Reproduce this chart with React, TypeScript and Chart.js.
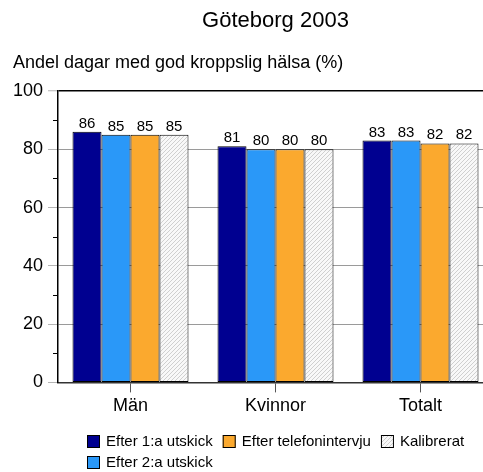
import React, { useEffect, useRef } from 'react';
import { Chart, registerables } from 'chart.js';

Chart.register(...registerables);

const categories = ['Män', 'Kvinnor', 'Totalt'];
const seriesLabels = ['Efter 1:a utskick', 'Efter 2:a utskick', 'Efter telefonintervju', 'Kalibrerat'];
const efter1 = [86, 81, 83];
const efter2 = [85, 80, 83];
const efterTelefon = [85, 80, 82];
const kalibrerat = [85, 80, 82];
const yTicks = [0, 20, 40, 60, 80, 100];
const titleText = 'Göteborg 2003';
const subtitleText = 'Andel dagar med god kroppslig hälsa (%)';
const legendRows = [[0, 2, 3], [1]];

const FONT = '"Liberation Sans", Arial, Helvetica, sans-serif';

function makeHatch(): CanvasPattern | string {
  const c = document.createElement('canvas');
  c.width = 4;
  c.height = 4;
  const g = c.getContext('2d');
  if (!g) return '#eee';
  g.fillStyle = '#f8f8f8';
  g.fillRect(0, 0, 4, 4);
  g.strokeStyle = '#cfcfcf';
  g.lineWidth = 1;
  g.beginPath();
  g.moveTo(0, 4);
  g.lineTo(4, 0);
  g.moveTo(-1, 1);
  g.lineTo(1, -1);
  g.moveTo(3, 5);
  g.lineTo(5, 3);
  g.stroke();
  const p = g.createPattern(c, 'repeat');
  return p || '#eee';
}

const valueLabels = {
  id: 'valueLabels',
  afterDatasetsDraw(chart: any) {
    const ctx = chart.ctx;
    ctx.save();
    ctx.font = `15px ${FONT}`;
    ctx.fillStyle = '#000';
    ctx.textAlign = 'center';
    ctx.textBaseline = 'alphabetic';
    chart.data.datasets.forEach((d: any, di: number) => {
      const meta = chart.getDatasetMeta(di);
      meta.data.forEach((el: any, i: number) => {
        ctx.fillText(String(d.data[i]), el.x, el.y - 4);
      });
    });
    ctx.restore();
  },
};

const minorTicks = {
  id: 'minorTicks',
  afterDraw(chart: any) {
    const ctx = chart.ctx;
    const y = chart.scales.y;
    const x0 = chart.chartArea.left;
    ctx.save();
    ctx.strokeStyle = '#000';
    ctx.lineWidth = 1;
    ctx.beginPath();
    for (let i = 0; i < y.ticks.length - 1; i++) {
      const v = (y.ticks[i].value + y.ticks[i + 1].value) / 2;
      const py = Math.round(y.getPixelForValue(v)) + 0.5;
      ctx.moveTo(x0 - 5, py);
      ctx.lineTo(x0, py);
    }
    ctx.stroke();
    ctx.restore();
  },
};

const gridLegend = {
  id: 'gridLegend',
  afterDraw(chart: any) {
    const ctx = chart.ctx;
    const ds = chart.data.datasets;
    const area = chart.chartArea;
    const box = 13;
    const textGap = 6;
    const colGap = 10;
    const rowH = 21;
    ctx.save();
    ctx.font = `15px ${FONT}`;
    const colW: number[] = [];
    legendRows.forEach((row) =>
      row.forEach((di, c) => {
        const w = box + textGap + ctx.measureText(ds[di].label).width;
        colW[c] = Math.max(colW[c] || 0, w);
      })
    );
    const total = colW.reduce((a, b) => a + b, 0) + colGap * (colW.length - 1);
    const left = (area.left + area.right) / 2 - total / 2;
    const top0 = Math.round(area.bottom + 52.5);
    legendRows.forEach((row, r) => {
      let x = Math.round(left);
      const y = top0 + r * rowH;
      row.forEach((di, c) => {
        ctx.fillStyle = ds[di].backgroundColor;
        ctx.fillRect(x, y, box, box);
        ctx.strokeStyle = '#000';
        ctx.lineWidth = 1;
        ctx.strokeRect(x + 0.5, y + 0.5, box - 1, box - 1);
        ctx.fillStyle = '#000';
        ctx.textAlign = 'left';
        ctx.textBaseline = 'middle';
        ctx.fillText(ds[di].label, x + box + textGap, y + box / 2 + 0.5);
        x += colW[c] + colGap;
      });
    });
    ctx.restore();
  },
};

export default function App() {
  const ref = useRef<HTMLCanvasElement | null>(null);

  useEffect(() => {
    if (!ref.current) return;
    Chart.defaults.font.family = FONT;
    Chart.defaults.color = '#000';
    const hatch = makeHatch();
    const colors: any[] = ['#000090', '#2a98f8', '#fba92e', hatch];
    const values = [efter1, efter2, efterTelefon, kalibrerat];
    const chart = new Chart(ref.current, {
      type: 'bar',
      data: {
        labels: categories,
        datasets: values.map((v, i) => ({
          label: seriesLabels[i],
          data: v,
          backgroundColor: colors[i],
          borderColor: '#000',
          borderWidth: 1,
          borderSkipped: false,
          categoryPercentage: 0.8,
          barPercentage: 1.0,
        })),
      },
      options: {
        animation: false,
        responsive: false,
        devicePixelRatio: 1,
        layout: { padding: { left: 13, right: 0, top: 0, bottom: 55 } },
        plugins: {
          legend: { display: false },
          tooltip: { enabled: false },
          title: {
            display: true,
            text: titleText,
            fullSize: false,
            color: '#000',
            font: { size: 22, weight: 'normal', family: FONT },
            padding: { top: 8, bottom: 10 },
          },
          subtitle: {
            display: true,
            text: subtitleText,
            align: 'start',
            color: '#000',
            font: { size: 18, weight: 'normal', family: FONT },
            padding: { top: 8, bottom: 17 },
          },
        },
        scales: {
          x: {
            offset: true,
            afterFit: (s: any) => {
              s.height = 34.6;
            },
            grid: {
              display: true,
              drawOnChartArea: false,
              offset: false,
              tickLength: 10,
              color: '#555',
              tickColor: '#555',
            },
            border: { display: true, color: '#333', width: 1.5 },
            ticks: { font: { size: 18 }, color: '#000', padding: 3 },
          },
          y: {
            min: 0,
            max: 100,
            afterBuildTicks: (s: any) => {
              s.ticks = yTicks.map((v) => ({ value: v }));
            },
            afterFit: (s: any) => {
              s.width = 45;
            },
            grid: {
              color: (c: any) => (c.tick && (c.tick.value === 100 || c.tick.value === 0) ? '#000' : '#9a9a9a'),
              lineWidth: (c: any) => (c.tick && c.tick.value === 100 ? 1.5 : 1),
              tickColor: '#b4b4b4',
              tickWidth: 1,
              tickLength: 10,
            },
            border: { display: true, color: '#000', width: 1.5 },
            ticks: { font: { size: 18 }, color: '#000', padding: 5, autoSkip: false },
          },
        },
      },
      plugins: [valueLabels, minorTicks, gridLegend],
    } as any);
    return () => chart.destroy();
  }, []);

  return (
    <div style={{ position: 'absolute', left: 0, top: 0, width: 483, height: 472, overflow: 'hidden', background: '#fff' }}>
      <canvas ref={ref} width={493} height={472} style={{ display: 'block' }} />
    </div>
  );
}
